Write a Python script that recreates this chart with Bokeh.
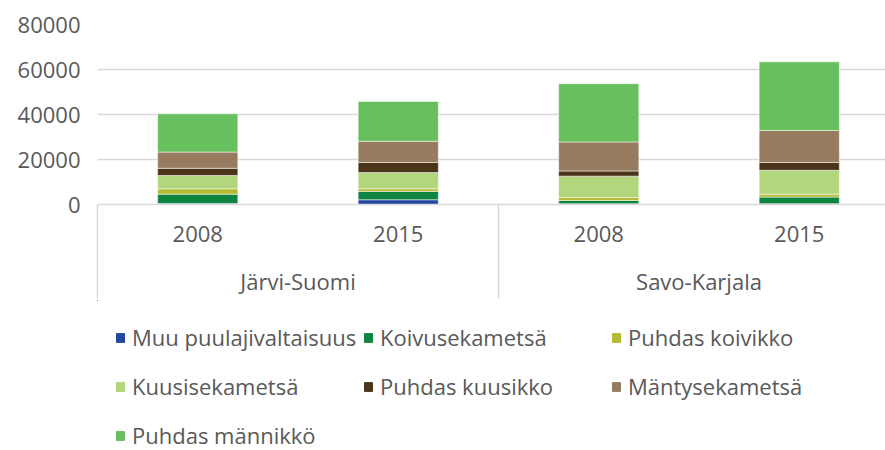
from bokeh.plotting import figure
from bokeh.layouts import column
from bokeh.models import (ColumnDataSource, Range1d, FixedTicker, LinearAxis, Legend, LegendItem)
from bokeh.embed import file_html
from bokeh.resources import INLINE

# ---- data ----
regions = ["Järvi-Suomi", "Järvi-Suomi", "Savo-Karjala", "Savo-Karjala"]
years = ["2008", "2015", "2008", "2015"]
series = ["Muu puulajivaltaisuus", "Koivusekametsä", "Puhdas koivikko",
          "Kuusisekametsä", "Puhdas kuusikko", "Mäntysekametsä", "Puhdas männikkö"]
muu = [400, 2100, 300, 300]
koivusek = [4200, 3700, 1500, 3000]
koivikko = [2400, 1200, 1300, 1300]
kuusisek = [5900, 7200, 9500, 10600]
kuusikko = [3200, 4500, 2300, 3500]
mantysek = [7200, 9400, 12900, 14200]
mannikko = [17000, 17700, 25900, 30500]
y_ticks = [0, 20000, 40000, 60000, 80000]

colors = ["#2247a0", "#0e8441", "#b3bb32", "#b1d67b", "#4a3519", "#977b5f", "#68bf5d"]
FONT = "Open Sans"
TXT = "#595959"
GRID = "#d9d9d9"

pos = [i + 0.5 for i in range(len(years))]
keys = ["s%d" % i for i in range(len(series))]
data = dict(x=pos)
for k, vals in zip(keys, [muu, koivusek, koivikko, kuusisek, kuusikko, mantysek, mannikko]):
    data[k] = vals
src = ColumnDataSource(data)

p = figure(width=885, height=300, output_backend="svg", toolbar_location=None,
           x_range=Range1d(0, 788 / 200.5), y_range=Range1d(0, 80000),
           min_border_left=97, min_border_right=0, min_border_top=24,
           min_border_bottom=96, outline_line_color=None, x_axis_location=None)

rs = p.vbar_stack(keys, x="x", width=0.4, source=src, color=colors,
                  line_color="white", line_alpha=0.5, line_width=1)

# y axis
p.yaxis.ticker = FixedTicker(ticks=y_ticks)
p.yaxis.axis_line_color = None
p.yaxis.major_tick_line_color = None
p.yaxis.minor_tick_line_color = None
p.yaxis.major_tick_out = 0
p.yaxis.major_tick_in = 0
p.yaxis.major_label_standoff = 17
p.yaxis.major_label_text_font = FONT
p.yaxis.major_label_text_font_size = "22px"
p.yaxis.major_label_text_color = TXT
p.ygrid.ticker = FixedTicker(ticks=y_ticks)
p.ygrid.grid_line_color = GRID
p.ygrid.grid_line_width = 1.5
p.xgrid.grid_line_color = None

# year axis (minor ticks draw the group separators)
yax = LinearAxis(ticker=FixedTicker(ticks=pos, minor_ticks=[0, 2, 4]),
                 major_label_overrides={pos[i]: years[i] for i in range(len(years))})
yax.axis_line_color = GRID
yax.axis_line_width = 1.5
yax.major_tick_line_color = None
yax.major_tick_out = 0
yax.major_tick_in = 0
yax.minor_tick_line_color = GRID
yax.minor_tick_line_width = 1.5
yax.minor_tick_out = 94
yax.minor_tick_in = 0
yax.major_label_standoff = -73
yax.major_label_text_font = FONT
yax.major_label_text_font_size = "22px"
yax.major_label_text_color = TXT
p.add_layout(yax, "below")

# group axis
gax = LinearAxis(ticker=FixedTicker(ticks=[1, 3], minor_ticks=[]),
                 major_label_overrides={1: regions[0], 3: regions[2]})
gax.axis_line_color = None
gax.major_tick_line_color = None
gax.minor_tick_line_color = None
gax.major_tick_out = 0
gax.major_tick_in = 0
gax.major_label_standoff = 21
gax.major_label_text_font = FONT
gax.major_label_text_font_size = "22px"
gax.major_label_text_color = TXT
p.add_layout(gax, "below")

# legend panel (its bars lie outside its visible range; only the legend shows)
q = figure(width=885, height=150, output_backend="svg", toolbar_location=None,
           x_range=Range1d(10, 11), y_range=Range1d(-2, -1),
           min_border_left=0, min_border_right=0, min_border_top=0,
           min_border_bottom=0, outline_line_color=None,
           x_axis_location=None, y_axis_location=None)
q.xgrid.visible = False
q.ygrid.visible = False
proxies = [q.vbar(x="x", top=k, width=0.01, source=src, color=c) for k, c in zip(keys, colors)]

cols = [[0, 3, 6], [1, 4], [2, 5]]
xs = [18, 266, 514]
ys = [0, 49, 49]
for c, xx, yy in zip(cols, xs, ys):
    items = [LegendItem(label=series[i], renderers=[proxies[i]]) for i in c]
    lg = Legend(items=items, location=(xx, yy), orientation="vertical",
                glyph_width=10, glyph_height=11, label_standoff=7, spacing=19,
                label_height=30, padding=0, margin=0,
                border_line_color=None, background_fill_alpha=0,
                label_text_font=FONT, label_text_font_size="22px",
                label_text_color=TXT)
    q.add_layout(lg, "center")

layout = column(p, q, spacing=0)
open("out.html", "w").write(file_html(layout, INLINE))
